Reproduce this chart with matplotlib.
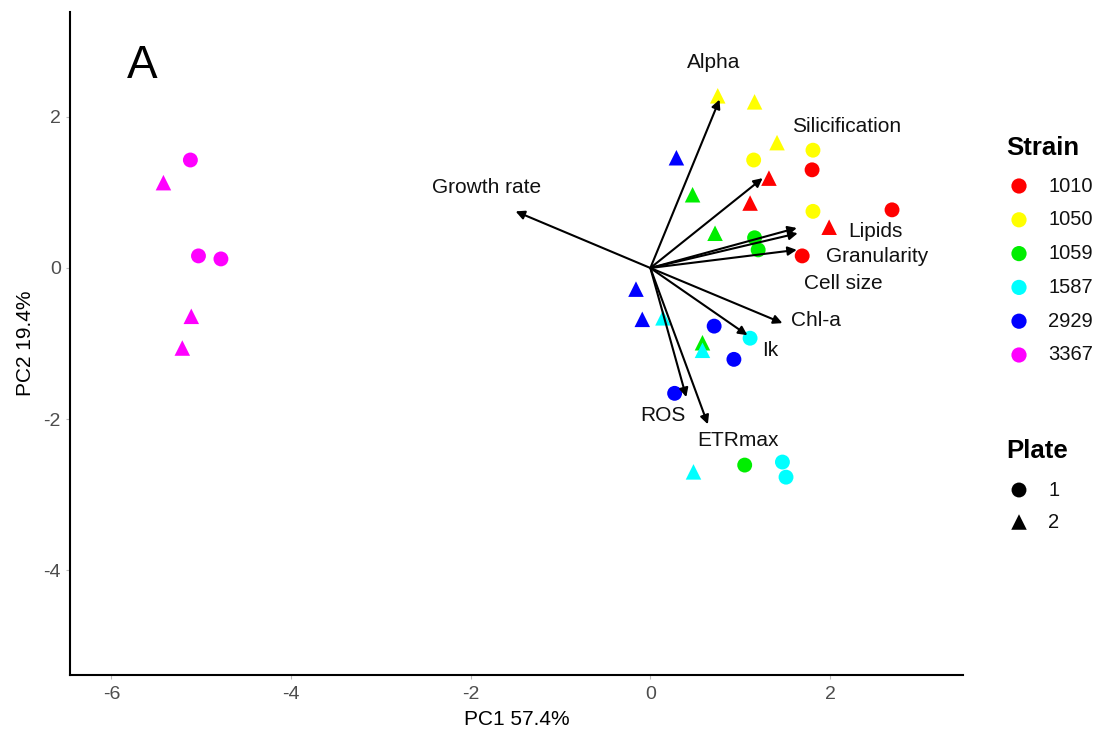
import matplotlib
matplotlib.use("Agg")
import matplotlib.pyplot as plt

plt.rcParams['font.family'] = ['Liberation Sans', 'DejaVu Sans']

strains = ["1010", "1050", "1059", "1587", "2929", "3367"]
colors = {"1010": "#FF0000", "1050": "#FFFF00", "1059": "#00EE00",
          "1587": "#00FFFF", "2929": "#0000FF", "3367": "#FF00FF"}

# PC scores per strain
pc1 = {
    "1010": [1.80, 1.32, 1.11, 2.69, 1.99, 1.69],
    "1050": [0.75, 1.16, 1.41, 1.81, 1.15, 1.81],
    "1059": [0.47, 0.72, 1.16, 1.20, 0.58, 1.05],
    "1587": [0.14, 1.11, 0.58, 1.47, 1.51, 0.48],
    "2929": [0.29, -0.16, -0.09, 0.71, 0.93, 0.27],
    "3367": [-5.12, -5.42, -5.03, -4.78, -5.11, -5.21],
}
pc2 = {
    "1010": [1.30, 1.19, 0.86, 0.77, 0.54, 0.16],
    "1050": [2.28, 2.20, 1.66, 1.56, 1.43, 0.75],
    "1059": [0.97, 0.46, 0.40, 0.24, -0.99, -2.61],
    "1587": [-0.66, -0.93, -1.09, -2.57, -2.77, -2.70],
    "2929": [1.46, -0.28, -0.68, -0.77, -1.21, -1.66],
    "3367": [1.43, 1.13, 0.16, 0.12, -0.64, -1.06],
}
plate = {
    "1010": [1, 2, 2, 1, 2, 1],
    "1050": [2, 2, 2, 1, 1, 1],
    "1059": [2, 2, 1, 1, 2, 1],
    "1587": [2, 1, 2, 1, 1, 2],
    "2929": [2, 2, 2, 1, 1, 1],
    "3367": [1, 2, 1, 1, 2, 2],
}
plates = [1, 2]

# Loadings (arrow tips) and label positions
variables = ["Alpha", "Silicification", "Growth rate", "Lipids", "Granularity",
             "Cell size", "Chl-a", "Ik", "ROS", "ETRmax"]
load_x = [0.77, 1.25, -1.50, 1.63, 1.64, 1.63, 1.47, 1.08, 0.40, 0.64]
load_y = [2.23, 1.19, 0.75, 0.53, 0.46, 0.24, -0.73, -0.89, -1.71, -2.07]
label_x = [0.70, 2.19, -1.82, 2.51, 2.52, 2.15, 1.84, 1.34, 0.14, 0.97]
label_y = [2.72, 1.87, 1.06, 0.48, 0.15, -0.20, -0.69, -1.09, -1.95, -2.28]

W, H = 1100, 731
fig = plt.figure(figsize=(W / 100, H / 100), dpi=100)
ax = fig.add_axes([70 / W, 1 - 675 / H, (963 - 70) / W, (675 - 12) / H])

marker_for = {1: "o", 2: "^"}
size_for = {1: 115, 2: 125}
for s in strains:
    for x, y, p in zip(pc1[s], pc2[s], plate[s]):
        ax.scatter(x, y, s=size_for[p], marker=marker_for[p], color=colors[s],
                   edgecolors="none", zorder=2)

for vx, vy in zip(load_x, load_y):
    ax.annotate("", xy=(vx, vy), xytext=(0, 0),
                arrowprops=dict(arrowstyle="-|>", color="black", lw=1.5,
                                mutation_scale=13, shrinkA=0, shrinkB=0),
                zorder=3)
for name, lx, ly in zip(variables, label_x, label_y):
    ax.text(lx, ly, name, ha="center", va="center", fontsize=15, color="#111111", zorder=4)

ax.text(-5.66, 2.68, "A", fontsize=33, ha="center", va="center")

ax.set_xlim(-6.46, 3.48)
ax.set_ylim(-5.39, 3.39)
ax.set_xticks([-6, -4, -2, 0, 2])
ax.set_yticks([2, 0, -2, -4])
ax.set_xticklabels(["-6", "-4", "-2", "0", "2"])
ax.set_yticklabels(["2", "0", "-2", "-4"])
ax.tick_params(axis="both", colors="#BBBBBB", labelcolor="#4D4D4D", labelsize=14,
               length=3, width=0.8)
ax.tick_params(axis="x", pad=5)
for side in ["top", "right"]:
    ax.spines[side].set_visible(False)
for side in ["left", "bottom"]:
    ax.spines[side].set_linewidth(1.5)
    ax.spines[side].set_color("black")
ax.set_xlabel("PC1 57.4%", fontsize=15, labelpad=5)
ax.set_ylabel("PC2 19.4%", fontsize=15, labelpad=6)

# Legend drawn in a pixel-coordinate overlay axes
lax = fig.add_axes([0, 0, 1, 1], facecolor="none")
lax.set_xlim(0, W)
lax.set_ylim(H, 0)
lax.axis("off")
lax.text(1006, 148, "Strain", fontsize=18.5, fontweight="bold", ha="left", va="center")
for i, s in enumerate(strains):
    yy = 186 + 33.8 * i
    lax.scatter(1019, yy, s=120, marker="o", color=colors[s], edgecolors="none")
    lax.text(1048, yy, s, fontsize=14.5, ha="left", va="center", color="#111111")
lax.text(1006, 451, "Plate", fontsize=18.5, fontweight="bold", ha="left", va="center")
for i, p in enumerate(plates):
    yy = 490 + 32 * i
    lax.scatter(1019, yy, s=size_for[p], marker=marker_for[p], color="black", edgecolors="none")
    lax.text(1048, yy, str(p), fontsize=14.5, ha="left", va="center", color="#111111")

fig.savefig("out.png", dpi=100)
